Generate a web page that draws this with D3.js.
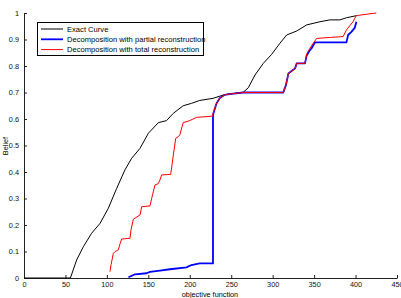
<!DOCTYPE html>
<html>
<head>
<meta charset="utf-8">
<script src="https://cdn.jsdelivr.net/npm/d3@7"></script>
<style>
  body { margin: 0; background: #fff; }
  svg { font-family: "Liberation Sans", Arial, sans-serif; }
</style>
</head>
<body>
<svg id="chart" width="401" height="298"></svg>
<script>
// values: [objective function, belief]
var exactCurve = [[0,0],[56,0],[63.5,0.068],[71.6,0.118],[81.6,0.169],[91.7,0.206],[101.7,0.263],[111.8,0.338],
  [121.8,0.408],[129.9,0.452],[139.9,0.489],[150,0.546],[162,0.586],[172,0.594],[180,0.621],[192,0.65],
  [202,0.659],[212,0.67],[228,0.678],[242,0.692],[264.6,0.701],[270.6,0.718],[278.7,0.766],[288.7,0.81],
  [298.8,0.844],[308.8,0.886],[316.9,0.917],[329,0.932],[341,0.955],[357,0.967],[369,0.974],[381,0.974],
  [389,0.982],[401,0.99]];

var partialRec = [[126,0.003],[134,0.014],[148,0.018],[152,0.023],[164,0.028],[176,0.033],[196,0.04],
  [202,0.049],[212,0.055],[228,0.055],[228,0.611],[228.5,0.621],[232,0.657],[236,0.678],[242,0.691],
  [250,0.695],[264.6,0.7],[312.8,0.7],[316,0.728],[319,0.772],[327,0.791],[329,0.81],[339,0.81],
  [341,0.84],[345,0.86],[347,0.867],[351,0.889],[389,0.889],[391,0.917],[395,0.929],[399,0.944],[401,0.967]];

var totalRec = [[103.7,0.024],[105,0.05],[107.8,0.093],[110,0.1],[113.8,0.106],[116,0.13],[117.8,0.147],
  [127.9,0.15],[129,0.18],[131.9,0.222],[135,0.228],[140,0.238],[142,0.269],[152,0.272],[154,0.3],
  [158,0.351],[162,0.356],[164,0.37],[166,0.389],[177,0.391],[180,0.46],[183,0.527],[186,0.533],
  [188,0.54],[192,0.586],[200,0.594],[208,0.606],[227.6,0.611],[228,0.621],[232,0.657],[236,0.678],
  [242,0.691],[250,0.695],[264.6,0.7],[312.8,0.7],[316,0.728],[319,0.772],[327,0.791],[329,0.81],
  [339,0.81],[341,0.845],[345,0.867],[349,0.886],[353,0.904],[370,0.908],[385,0.911],[389,0.936],
  [393,0.952],[397,0.967],[399,0.98],[401,0.99],[410,0.994],[425,1.0]];

var xTicks = [0, 50, 100, 150, 200, 250, 300, 350, 400, 450];
var yTicks = [0, 0.1, 0.2, 0.3, 0.4, 0.5, 0.6, 0.7, 0.8, 0.9, 1];

var seriesNames = ["Exact Curve", "Decomposition with partial reconstruction", "Decomposition with total reconstruction"];
var seriesColors = ["#000", "#0000ff", "#ff0000"];
var seriesWidths = [1, 1.8, 1];

var svg = d3.select("#chart");

var x = d3.scaleLinear().domain([0, 450]).range([24, 397]);
var y = d3.scaleLinear().domain([0, 1]).range([278, 13]);

// axes, matlab style ticks pointing inward
var xAxis = svg.append("g")
    .attr("transform", "translate(0,278)")
    .call(d3.axisBottom(x).tickValues(xTicks).tickSize(-3).tickSizeOuter(0).tickPadding(4).tickFormat(d3.format("d")));
var yAxis = svg.append("g")
    .attr("transform", "translate(24,0)")
    .call(d3.axisLeft(y).tickValues(yTicks).tickSize(-3).tickSizeOuter(0).tickPadding(5).tickFormat(d => d == 0 || d == 1 ? d : d3.format(".1f")(d)));

svg.selectAll(".domain").attr("stroke", "#222");
svg.selectAll(".tick line").attr("stroke", "#222");
svg.selectAll(".tick text").attr("font-size", 7.3).attr("fill", "#111")
    .attr("font-family", "'Liberation Sans', Arial, sans-serif");

svg.append("text")
    .attr("x", 210).attr("y", 297)
    .attr("text-anchor", "middle")
    .attr("font-size", 7.3)
    .text("objective function");

svg.append("text")
    .attr("transform", "translate(8,146) rotate(-90)")
    .attr("text-anchor", "middle")
    .attr("font-size", 7.3)
    .text("Belief");

var line = d3.line().x(d => x(d[0])).y(d => y(d[1]));

var allSeries = [exactCurve, partialRec, totalRec];
allSeries.forEach(function(s, i) {
    svg.append("path")
        .datum(s)
        .attr("fill", "none")
        .attr("stroke", seriesColors[i])
        .attr("stroke-width", seriesWidths[i])
        .attr("stroke-linejoin", "round")
        .attr("d", line);
});

// legend
var legend = svg.append("g");
legend.append("rect")
    .attr("x", 37.5).attr("y", 22.5)
    .attr("width", 166).attr("height", 33)
    .attr("fill", "#fff").attr("stroke", "#000").attr("stroke-width", 1);

seriesNames.forEach(function(name, i) {
    var yy = 29 + i * 10.3;
    legend.append("line")
        .attr("x1", 41).attr("x2", 63)
        .attr("y1", yy).attr("y2", yy)
        .attr("stroke", seriesColors[i])
        .attr("stroke-width", seriesWidths[i]);
    legend.append("text")
        .attr("x", 67).attr("y", yy + 2.6)
        .attr("font-size", 7.6)
        .text(name);
});
</script>
</body>
</html>
